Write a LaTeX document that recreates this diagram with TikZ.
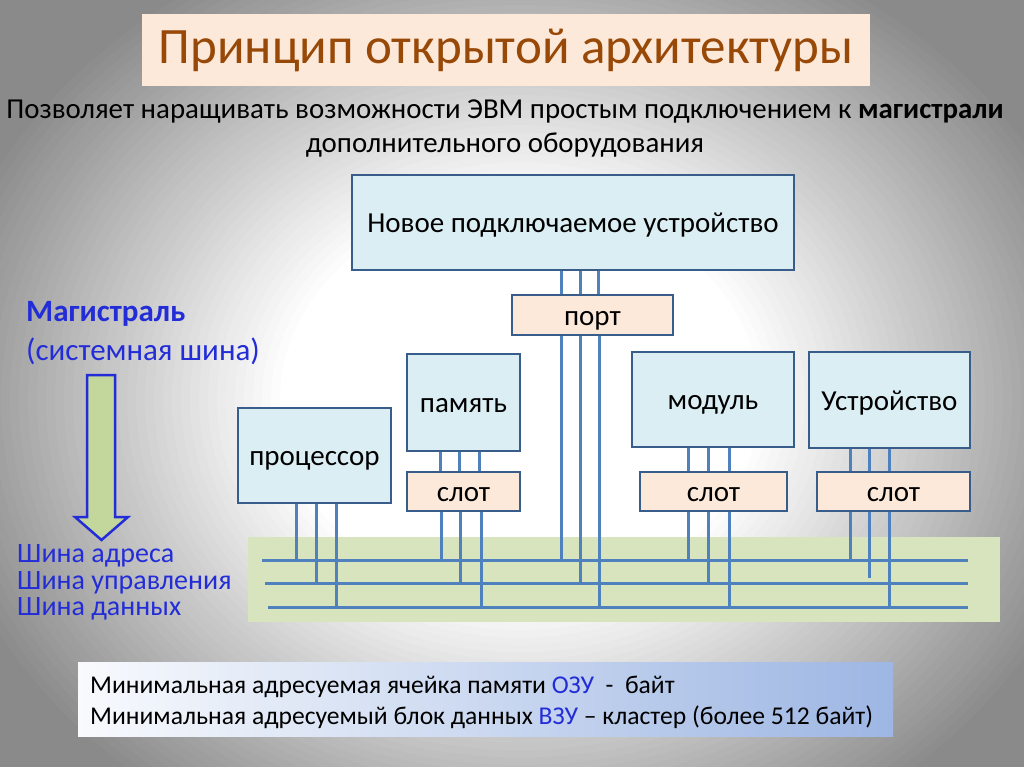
\documentclass[tikz,border=0pt]{standalone}
\usepackage{fontspec}
\setmainfont{Carlito}
\usetikzlibrary{positioning}
\definecolor{peach}{RGB}{253,233,217}
\definecolor{titlebrown}{RGB}{152,72,7}
\definecolor{unitfill}{RGB}{219,238,244}
\definecolor{unitline}{RGB}{56,93,138}
\definecolor{wireblue}{RGB}{79,129,189}
\definecolor{busgreen}{RGB}{215,228,189}
\definecolor{arrowgreen}{RGB}{195,214,155}
\definecolor{labelblue}{RGB}{35,45,215}
\definecolor{noteblue}{RGB}{157,182,227}
\definecolor{bggray}{RGB}{138,138,138}
\tikzset{
  unit/.style    = {draw=unitline, line width=2.2pt, fill=unitfill, align=center,
                    font=\fontsize{29}{32}\selectfont, text=black, inner sep=0pt,
                    text height=20pt, text depth=0pt},
  slotbox/.style = {unit, fill=peach},
  wire/.style    = {draw=wireblue, line width=3pt},
  busline/.style = {wire},
  % blue captions on the left
  bluelbl/.style = {anchor=west, inner sep=0pt, text=labelblue,
                    font=\fontsize{28}{28}\selectfont},
}

\begin{document}
\begin{tikzpicture}[x=1pt, y=-1pt]

    \useasboundingbox (0,0) rectangle (1024,767);
    % slide background: white centre fading to grey
    \begin{scope}
      \clip (0,0) rectangle (1024,767);
      \fill[bggray] (0,0) rectangle (1024,767);
      \foreach \t in {1.00,0.985,...,0.39} {
        \pgfmathsetmacro\bgmix{min(100,max(0,(1-\t)/0.6*100))}
        \fill[white!\bgmix!bggray] (520,400) ellipse [x radius={600*\t}, y radius={500*\t}];
      }
    \end{scope}

    \node[fill=peach, minimum width=728, minimum height=72, inner sep=0pt,
          text=titlebrown, font=\fontsize{51}{51}\selectfont] (title) at (506,50)
          {Принцип открытой архитектуры};

    \node[align=center, text=black, font=\fontsize{28.9}{34}\selectfont] (sub) at (505,128)
          {Позволяет наращивать возможности ЭВМ простым подключением к \textbf{магистрали}\\
           дополнительного оборудования};

    % the bus
    \node[fill=busgreen, minimum width=752, minimum height=85, inner sep=0pt] (band) at (624,579.5) {};
    \coordinate (busAw) at (262,560);  \coordinate (busAe) at (968,560);
    \coordinate (busBw) at (265,583);  \coordinate (busBe) at (968,583);
    \coordinate (busCw) at (268,607);  \coordinate (busCe) at (968,607);

    \node[unit, minimum width=442, minimum height=95] (newdev) at (573,222.5) {Новое подключаемое устройство};
    \node[slotbox, minimum width=161, minimum height=40] (port) at (592.5,315) {порт};

    \node[unit, minimum width=153, minimum height=95] (cpu) at (314.5,455.5) {процессор};

    \node[unit, minimum width=113, minimum height=97] (mem) at (463.5,402.5) {память};
    \node[slotbox, minimum width=113, minimum height=39] (memslot) at (463.5,491.5) {слот};

    \node[unit, minimum width=162, minimum height=95] (mod) at (713,399.5) {модуль};
    \node[slotbox, minimum width=147, minimum height=39] (modslot) at (713.5,491.5) {слот};

    \node[unit, minimum width=161, minimum height=96] (dev) at (889.5,400) {Устройство};
    \node[slotbox, minimum width=153, minimum height=39] (devslot) at (893.5,491.5) {слот};

    % wires down to the bus
    \foreach \x/\b in {296/A,316/B,336/C}
      \draw[wire] (cpu.south -| \x,0) -- (\x,0 |- bus\b w);

    \foreach \x in {440,459,479}
      \draw[wire] (mem.south -| \x,0) -- (memslot.north -| \x,0);
    \foreach \x/\b in {441/A,460/B,481/C}
      \draw[wire] (memslot.south -| \x,0) -- (\x,0 |- bus\b w);

    \foreach \x in {561,580,598}
      \draw[wire] (newdev.south -| \x,0) -- (port.north -| \x,0);
    \foreach \x/\b in {561/A,580/B,599/C}
      \draw[wire] (port.south -| \x,0) -- (\x,0 |- bus\b w);

    \foreach \x in {688,708,729}
      \draw[wire] (mod.south -| \x,0) -- (modslot.north -| \x,0);
    \foreach \x/\b in {688/A,708/B,729/C}
      \draw[wire] (modslot.south -| \x,0) -- (\x,0 |- bus\b w);

    \foreach \x in {850,869,889}
      \draw[wire] (dev.south -| \x,0) -- (devslot.north -| \x,0);
    \draw[wire] (devslot.south -| 850,0) -- (850,0 |- busAw);
    \draw[wire, shorten >=5pt] (devslot.south -| 869,0) -- (869,0 |- busBw);
    \draw[wire] (devslot.south -| 889,0) -- (889,0 |- busCw);

    \draw[busline] (busAw) -- (busAe);
    \draw[busline] (busBw) -- (busBe);
    \draw[busline] (busCw) -- (busCe);

    % left side
    \node[bluelbl, font=\fontsize{31}{31}\selectfont\bfseries] (mag) at (26,314) {Магистраль};
    \node[bluelbl, font=\fontsize{31}{31}\selectfont] (sysbus) at (26,351) {(системная шина)};
    \filldraw[draw=labelblue, fill=arrowgreen, line width=2.5pt]
      (87,375) -- (115,375) -- (115,517) -- (128,517) -- (101.5,540)
      -- (75,517) -- (87,517) -- cycle;
    \node[bluelbl] (lblA) at (17,556) {Шина адреса};
    \node[bluelbl] (lblB) at (17,583) {Шина управления};
    \node[bluelbl] (lblC) at (17,609) {Шина данных};

    % note at the bottom
    \node[left color=white!93!noteblue, right color=noteblue, minimum width=815,
          minimum height=74, inner sep=0pt] (note) at (485.5,699) {};
    \node[anchor=west, align=left, inner sep=0pt, font=\fontsize{25.6}{31}\selectfont]
          (notetext) at (90,702)
          {Минимальная адресуемая ячейка памяти \textcolor{labelblue}{ОЗУ}~~-~~байт\\
           Минимальная адресуемый блок данных \textcolor{labelblue}{ВЗУ} – кластер (более 512 байт)};

  \end{tikzpicture}
\end{document}
